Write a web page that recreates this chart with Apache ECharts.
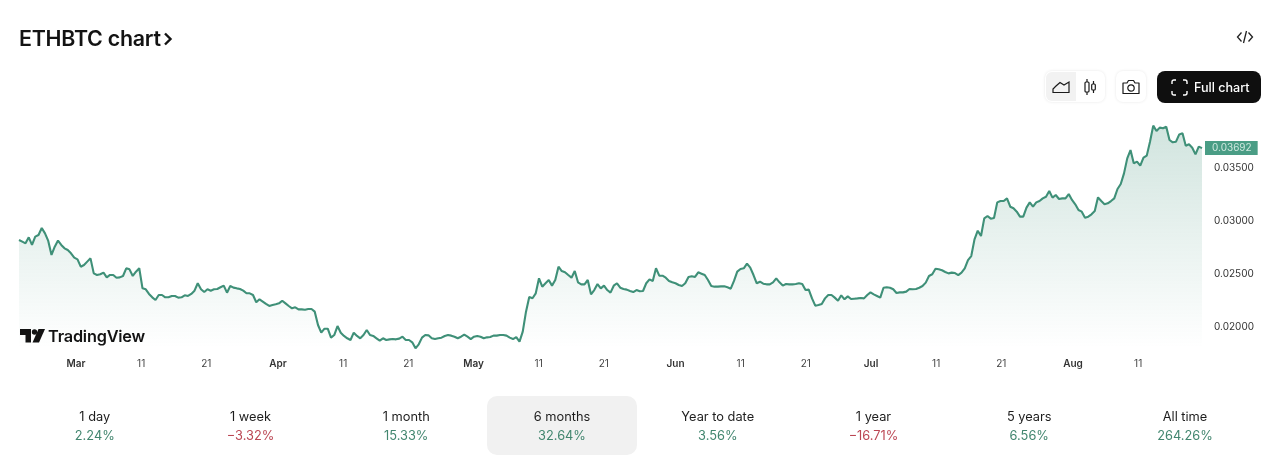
<!DOCTYPE html>
<html lang="en">
<head>
<meta charset="utf-8">
<script src="https://cdn.jsdelivr.net/npm/echarts@6/dist/echarts.min.js"></script>
<style>
    html,body{margin:0;padding:0;background:#fff;width:1280px;height:467px;overflow:hidden;font-family:Inter,sans-serif;color:#131313;}
    #chart{position:absolute;left:0;top:0;width:1280px;height:467px;}
    .abs{position:absolute;}
    .title{left:19px;top:24px;font-size:21.4px;font-weight:600;line-height:28px;letter-spacing:-0.25px;}
    .btn-group{left:1045px;top:71px;width:60px;height:31px;border-radius:7px;box-shadow:0 0 3px rgba(0,0,0,.10);background:#fff;}
    .btn-on{left:1046px;top:72px;width:30px;height:29px;border-radius:6px 0 0 6px;background:#f2f2f2;}
    .btn-cam{left:1116px;top:71px;width:30px;height:31px;border-radius:7px;box-shadow:0 0 3px rgba(0,0,0,.10);background:#fff;}
    .btn-full{left:1157px;top:71px;width:104px;height:32px;border-radius:8px;background:#0f0f0f;color:#fff;font-size:12.6px;font-weight:500;line-height:33px;}
    .btn-full span{position:absolute;left:37px;top:0;white-space:nowrap;}
    .logo{left:48px;top:324px;font-size:16.3px;font-weight:600;line-height:24px;letter-spacing:-0.2px;color:#131313;}
    .period{top:396px;width:150px;height:59px;border-radius:10px;text-align:center;font-size:12.8px;}
    .period.on{background:#f1f1f1;}
    .period div{position:absolute;left:0;width:100%;line-height:18px;}
    .period .name{top:12px;color:#1d1d1d;}
    .period .pct{top:31px;}
    .up{color:#42866f;}
    .down{color:#bb4653;}
</style>
</head>
<body>
<div id="chart"></div>

<div class="abs title">ETHBTC chart</div>
<svg class="abs" style="left:163px;top:32px" width="12" height="14" viewBox="0 0 12 14"><path d="M2 1.5 L7.5 7 L2 12.5" fill="none" stroke="#131313" stroke-width="2.4"/></svg>
<svg class="abs" style="left:1236px;top:29px" width="18" height="16" viewBox="0 0 18 16"><path d="M5.5 3.5 L1.5 8 L5.5 12.5 M12.5 3.5 L16.5 8 L12.5 12.5 M10.5 2 L7.5 14" fill="none" stroke="#222" stroke-width="1.3"/></svg>

<div class="abs btn-group"></div>
<div class="abs btn-on"></div>
<svg class="abs" style="left:1052px;top:80px" width="18" height="14" viewBox="0 0 18 14"><path d="M1 12.5 H17 V2 L12 5 L8 2.5 L4 6 L1 9 Z" fill="none" stroke="#1a1a1a" stroke-width="1.2"/></svg>
<svg class="abs" style="left:1083px;top:78px" width="14" height="18" viewBox="0 0 14 18"><path d="M4 1 V17 M10.5 3 V15" stroke="#1a1a1a" stroke-width="1.2"/><rect x="2" y="4" width="4" height="10" rx="1" fill="#fff" stroke="#1a1a1a" stroke-width="1.2"/><rect x="8.7" y="6" width="3.6" height="6" rx="1" fill="#fff" stroke="#1a1a1a" stroke-width="1.2"/></svg>
<div class="abs btn-cam"></div>
<svg class="abs" style="left:1122px;top:79px" width="18" height="16" viewBox="0 0 18 16"><path d="M1 4 H5 L6.5 1.5 H11.5 L13 4 H17 V14.5 H1 Z" fill="none" stroke="#1a1a1a" stroke-width="1.2" stroke-linejoin="round"/><circle cx="9" cy="9" r="3.2" fill="none" stroke="#1a1a1a" stroke-width="1.2"/></svg>
<div class="abs btn-full">
    <svg class="abs" style="left:14px;top:8px" width="17" height="17" viewBox="0 0 17 17"><path d="M1 5 V3 Q1 1 3 1 H5 M12 1 H14 Q16 1 16 3 V5 M16 12 V14 Q16 16 14 16 H12 M5 16 H3 Q1 16 1 14 V12" fill="none" stroke="#fff" stroke-width="1.4"/></svg>
    <span>Full chart</span>
</div>

<svg class="abs" style="left:20px;top:329px" width="25" height="14" viewBox="0 0 25 14"><path d="M0 0 H11 V13.5 H5.5 V6 H0 Z" fill="#131313"/><path d="M18.5 0 H25 L19 13.5 H12.5 Z" fill="#131313"/><circle cx="14.5" cy="3" r="2.7" fill="#131313"/></svg>
<div class="abs logo">TradingView</div>

<div id="periods"></div>

<script>
    var periodNames = ['1 day', '1 week', '1 month', '6 months', 'Year to date', '1 year', '5 years', 'All time'];
    var periodChanges = ['2.24%', '\u22123.32%', '15.33%', '32.64%', '3.56%', '\u221216.71%', '6.56%', '264.26%'];

    var yTicks = [0.02, 0.025, 0.03, 0.035];
    var monthTicks = ['2025-03-01', '2025-04-01', '2025-05-01', '2025-06-01', '2025-07-01', '2025-08-01'];
    var dayTicks = ['2025-03-11', '2025-03-21', '2025-04-11', '2025-04-21', '2025-05-11', '2025-05-21',
        '2025-06-11', '2025-06-21', '2025-07-11', '2025-07-21', '2025-08-11'];
    var monthNames = ['Jan', 'Feb', 'Mar', 'Apr', 'May', 'Jun', 'Jul', 'Aug'];

    // ETHBTC closes, roughly every 12h
    var closes = [
        0.02822,0.02806,0.02790,0.02847,0.02775,0.02854,0.02869,0.02936,0.02885,0.02813,
        0.02680,0.02759,0.02816,0.02775,0.02743,0.02727,0.02696,0.02655,0.02639,0.02569,
        0.02585,0.02617,0.02648,0.02506,0.02491,0.02497,0.02513,0.02468,0.02491,0.02491,
        0.02465,0.02468,0.02481,0.02554,0.02544,0.02481,0.02522,0.02554,0.02364,0.02355,
        0.02311,0.02279,0.02254,0.02301,0.02301,0.02279,0.02279,0.02292,0.02292,0.02276,
        0.02279,0.02298,0.02292,0.02311,0.02342,0.02412,0.02355,0.02329,0.02355,0.02342,
        0.02355,0.02358,0.02374,0.02390,0.02323,0.02386,0.02371,0.02364,0.02358,0.02342,
        0.02317,0.02317,0.02301,0.02232,0.02260,0.02238,0.02216,0.02197,0.02206,0.02213,
        0.02222,0.02247,0.02222,0.02197,0.02175,0.02184,0.02165,0.02165,0.02162,0.02168,
        0.02168,0.02143,0.02017,0.01944,0.01982,0.01982,0.01897,0.01922,0.02007,0.01944,
        0.01913,0.01891,0.01875,0.01944,0.01913,0.01891,0.01922,0.01970,0.01922,0.01913,
        0.01891,0.01869,0.01891,0.01875,0.01881,0.01884,0.01881,0.01888,0.01906,0.01875,
        0.01875,0.01853,0.01796,0.01834,0.01897,0.01922,0.01919,0.01891,0.01884,0.01891,
        0.01897,0.01913,0.01922,0.01916,0.01906,0.01891,0.01906,0.01925,0.01906,0.01884,
        0.01906,0.01913,0.01906,0.01891,0.01900,0.01903,0.01916,0.01916,0.01922,0.01922,
        0.01916,0.01897,0.01884,0.01903,0.01859,0.01954,0.02143,0.02282,0.02270,0.02317,
        0.02459,0.02380,0.02412,0.02443,0.02390,0.02443,0.02569,0.02528,0.02516,0.02490,
        0.02465,0.02528,0.02421,0.02402,0.02402,0.02443,0.02307,0.02348,0.02405,0.02364,
        0.02390,0.02348,0.02323,0.02389,0.02412,0.02370,0.02358,0.02352,0.02339,0.02329,
        0.02348,0.02336,0.02339,0.02412,0.02449,0.02434,0.02554,0.02484,0.02484,0.02465,
        0.02434,0.02421,0.02412,0.02396,0.02386,0.02412,0.02472,0.02478,0.02472,0.02516,
        0.02503,0.02490,0.02443,0.02386,0.02380,0.02380,0.02383,0.02383,0.02374,0.02361,
        0.02434,0.02522,0.02547,0.02554,0.02598,0.02560,0.02490,0.02412,0.02427,0.02408,
        0.02402,0.02402,0.02421,0.02459,0.02421,0.02390,0.02405,0.02402,0.02402,0.02405,
        0.02412,0.02405,0.02348,0.02352,0.02269,0.02200,0.02206,0.02216,0.02269,0.02301,
        0.02301,0.02276,0.02247,0.02298,0.02260,0.02288,0.02263,0.02266,0.02269,0.02273,
        0.02269,0.02301,0.02326,0.02307,0.02292,0.02276,0.02370,0.02374,0.02370,0.02355,
        0.02320,0.02326,0.02326,0.02333,0.02358,0.02355,0.02358,0.02370,0.02386,0.02418,
        0.02481,0.02497,0.02550,0.02544,0.02535,0.02519,0.02506,0.02513,0.02509,0.02490,
        0.02513,0.02554,0.02632,0.02670,0.02828,0.02910,0.02860,0.03027,0.03049,0.03024,
        0.03030,0.03178,0.03191,0.03191,0.03216,0.03137,0.03122,0.03090,0.03043,0.03043,
        0.03128,0.03178,0.03137,0.03178,0.03191,0.03216,0.03232,0.03286,0.03223,0.03248,
        0.03210,0.03216,0.03216,0.03257,0.03201,0.03160,0.03106,0.03090,0.03033,0.03043,
        0.03065,0.03096,0.03226,0.03191,0.03160,0.03169,0.03191,0.03216,0.03305,0.03352,
        0.03453,0.03595,0.03674,0.03548,0.03564,0.03526,0.03602,0.03621,0.03753,0.03905,
        0.03854,0.03886,0.03880,0.03895,0.03769,0.03747,0.03753,0.03822,0.03832,0.03715,
        0.03728,0.03696,0.03633,0.03706,0.03692
    ];

    var startTime = Date.UTC(2025, 1, 20, 6);
    var stepMs = 11.97 * 3600 * 1000;

    var linePoints = closes.map(function (v, i) {
        return [startTime + i * stepMs, v];
    });
    function tickTime(s) {
        return new Date(s + 'T00:00:00Z').getTime();
    }
    var tickTimes = monthTicks.concat(dayTicks).map(tickTime);

    var periodsHtml = '';
    periodNames.forEach(function (name, i) {
        var left = 487 + (i - 3) * 155.75;
        var cls = periodChanges[i].charAt(0) === '\u2212' ? 'down' : 'up';
        periodsHtml += '<div class="abs period' + (i === 3 ? ' on' : '') + '" style="left:' + left + 'px">' +
            '<div class="name">' + name + '</div><div class="pct ' + cls + '">' + periodChanges[i] + '</div></div>';
    });
    document.getElementById('periods').innerHTML = periodsHtml;

    var chart = echarts.init(document.getElementById('chart'));
    chart.setOption({
        animation: false,
        backgroundColor: 'transparent',
        textStyle: {fontFamily: 'Inter'},
        grid: {left: 19, right: 78, top: 115.6, height: 232.3},
        xAxis: {
            // plain value axis over timestamps, the time axis breaks on customValues
            type: 'value',
            min: startTime,
            max: startTime + (closes.length - 1) * stepMs,
            axisLine: {show: false},
            axisTick: {show: false},
            splitLine: {show: false},
            axisLabel: {
                customValues: tickTimes,
                margin: 11,
                fontFamily: 'Inter',
                fontSize: 10,
                color: '#444',
                formatter: function (value) {
                    var d = new Date(value);
                    if (d.getUTCDate() === 1) {
                        return '{m|' + monthNames[d.getUTCMonth()] + '}';
                    }
                    return String(d.getUTCDate());
                },
                rich: {m: {fontFamily: 'Inter', fontSize: 10, fontWeight: 600, color: '#333'}}
            }
        },
        yAxis: {
            type: 'value',
            position: 'right',
            min: 0.018,
            max: 0.04,
            axisLine: {show: false},
            axisTick: {show: false},
            splitLine: {show: false},
            axisLabel: {
                customValues: yTicks,
                margin: 12,
                padding: [3, 0, 0, 0],
                fontFamily: 'Inter',
                fontSize: 10,
                color: '#333',
                formatter: function (value) {
                    return value.toFixed(5);
                }
            }
        },
        series: [{
            type: 'line',
            data: linePoints,
            showSymbol: false,
            symbol: 'none',
            sampling: 'none',
            lineStyle: {color: '#3f9078', width: 2.1},
            itemStyle: {color: '#3f9078'},
            areaStyle: {
                color: new echarts.graphic.LinearGradient(0, 0, 0, 1, [
                    {offset: 0, color: 'rgba(63,144,120,0.34)'},
                    {offset: 1, color: 'rgba(63,144,120,0.0)'}
                ])
            },
            endLabel: {
                show: true,
                distance: 3,
                formatter: function (p) {
                    return p.value[1].toFixed(5);
                },
                fontFamily: 'Inter',
                fontSize: 10,
                color: '#cfe8df',
                backgroundColor: '#4a9d85',
                padding: [2, 6, 2, 7]
            }
        }]
    });
</script>
</body>
</html>
